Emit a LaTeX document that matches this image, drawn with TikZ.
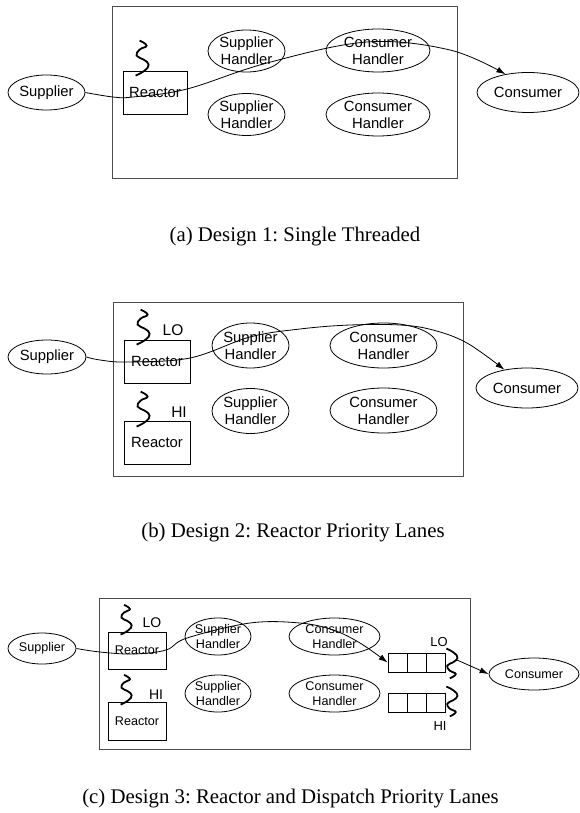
\documentclass[tikz,border=0pt]{standalone}
\usepackage{fontspec}
\setmainfont{Liberation Serif}
\setsansfont{Liberation Sans}
\usetikzlibrary{shapes,arrows.meta,positioning,calc}
\frenchspacing

\begin{document}
\begin{tikzpicture}[x=1pt, y=-1pt,
    ent/.style={ellipse, draw, line width=0.8pt, inner sep=0pt, align=center},
    reactor/.style={rectangle, draw, line width=0.8pt, inner sep=0pt},
    frame/.style={rectangle, draw=black!70, line width=1pt, inner sep=0pt},
    queue/.style={rectangle, draw, line width=0.8pt, inner sep=0pt, minimum width=57pt, minimum height=19pt,
        path picture={\foreach \k in {1,2}
            \draw[line width=0.8pt] ($(path picture bounding box.north west)!\k/3!(path picture bounding box.north east)$)
               -- ($(path picture bounding box.south west)!\k/3!(path picture bounding box.south east)$);}},
    prio/.style={inner sep=0pt},
    flow/.style={->, >={Latex[length=9pt,width=6pt]}, line width=0.8pt},
    caption/.style={font=\rmfamily\fontsize{20.8}{25}\selectfont, anchor=base},
    big/.style={font=\sffamily\fontsize{14.8}{17}\selectfont},
    small/.style={font=\sffamily\fontsize{12.6}{14.5}\selectfont},
    thread/.pic={\draw[line width=1.8pt] plot[smooth, tension=0.8] coordinates
        {(0,0) (9,-5) (13,-11) (8,-16) (1,-20) (4,-26) (11,-30) (4,-35)};}
]
    \useasboundingbox (0,0) rectangle (579,813);

    % (a) single threaded
    \node[frame, minimum width=345pt, minimum height=172pt] (sys1) at (284.5,93) {};
    \node[ent, big, minimum width=77pt, minimum height=35pt] (sup1) at (46.5,92.5) {Supplier};
    \node[reactor, big, minimum width=64pt, minimum height=43pt] (rea1) at (155,92.5) {Reactor};
    \node[ent, big, minimum width=77pt, minimum height=42pt] (sh1a) at (246.5,51) {Supplier\\Handler};
    \node[ent, big, minimum width=77pt, minimum height=42pt] (sh1b) at (246.5,114.5) {Supplier\\Handler};
    \node[ent, big, minimum width=104pt, minimum height=43pt] (ch1a) at (378,50.5) {Consumer\\Handler};
    \node[ent, big, minimum width=104pt, minimum height=43pt] (ch1b) at (378,114.5) {Consumer\\Handler};
    \node[ent, big, minimum width=102pt, minimum height=40pt] (con1) at (528,92.5) {Consumer};
    \pic at ($(rea1.north west)+(13,5)$) {thread};
    \draw[flow] plot[smooth, tension=0.6] coordinates
        {(sup1.east) (113,97) (133,97) (187,89) (267,63) (367,42) (450,50) (con1.141)};
    \node[caption] (capa) at (295,241) {(a) Design 1: Single Threaded};

    % (b) reactor priority lanes
    \node[frame, minimum width=350pt, minimum height=174pt] (sys2) at (288,389) {};
    \node[ent, big, minimum width=78pt, minimum height=34pt] (sup2) at (47,357) {Supplier};
    \node[reactor, big, minimum width=66pt, minimum height=43pt] (rea2a) at (157,361.5) {Reactor};
    \node[reactor, big, minimum width=66pt, minimum height=43pt] (rea2b) at (157,442.5) {Reactor};
    \node[prio, font=\sffamily\fontsize{15.5}{17}\selectfont] (lo2) at (173,330) {LO};
    \node[prio, font=\sffamily\fontsize{15.5}{17}\selectfont] (hi2) at (179,412) {HI};
    \node[ent, big, minimum width=77pt, minimum height=45pt] (sh2a) at (250.5,345.5) {Supplier\\Handler};
    \node[ent, big, minimum width=77pt, minimum height=45pt] (sh2b) at (250.5,411) {Supplier\\Handler};
    \node[ent, big, minimum width=107pt, minimum height=45pt] (ch2a) at (383.5,345.5) {Consumer\\Handler};
    \node[ent, big, minimum width=107pt, minimum height=45pt] (ch2b) at (383.5,410.5) {Consumer\\Handler};
    \node[ent, big, minimum width=102pt, minimum height=40pt] (con2) at (527,388) {Consumer};
    \pic at ($(rea2a.north west)+(13,5)$) {thread};
    \pic at ($(rea2b.north west)+(13,6)$) {thread};
    \draw[flow] plot[smooth, tension=0.6] coordinates
        {(sup2.east) (100,360) (127,362) (190,358) (250,337) (300,329) (350,325) (400,325) (433,330) (467,343) (con2.141)};
    \node[caption] (capb) at (293,537) {(b) Design 2: Reactor Priority Lanes};

    % (c) reactor and dispatch priority lanes
    \node[frame, minimum width=371pt, minimum height=151pt] (sys3) at (284.5,673.5) {};
    \node[ent, small, minimum width=68pt, minimum height=31pt] (sup3) at (42,648.5) {Supplier};
    \node[reactor, small, minimum width=58pt, minimum height=37pt] (rea3a) at (137,650.5) {Reactor};
    \node[reactor, small, minimum width=58pt, minimum height=38pt] (rea3b) at (137,721) {Reactor};
    \node[prio, font=\sffamily\fontsize{14}{16}\selectfont] (lo3) at (152,623) {LO};
    \node[prio, font=\sffamily\fontsize{14}{16}\selectfont] (hi3) at (156,695) {HI};
    \node[ent, small, minimum width=66pt, minimum height=37pt] (sh3a) at (218,636.5) {Supplier\\Handler};
    \node[ent, small, minimum width=66pt, minimum height=37pt] (sh3b) at (218,693.5) {Supplier\\Handler};
    \node[ent, small, minimum width=91pt, minimum height=37pt] (ch3a) at (334.5,636.5) {Consumer\\Handler};
    \node[ent, small, minimum width=91pt, minimum height=37pt] (ch3b) at (334.5,693.5) {Consumer\\Handler};
    \node[queue] (q3a) at (416.5,662.5) {};
    \node[queue] (q3b) at (416.5,702.5) {};
    \node[prio, font=\sffamily\fontsize{13}{15}\selectfont] (lo3q) at (439,642) {LO};
    \node[prio, font=\sffamily\fontsize{13}{15}\selectfont] (hi3q) at (440,726) {HI};
    \node[ent, small, minimum width=90pt, minimum height=32pt] (con3) at (534,674) {Consumer};
    \pic[scale=0.85] at ($(rea3a.north west)+(13,3)$) {thread};
    \pic[scale=0.85] at ($(rea3b.north west)+(13,3)$) {thread};
    \pic[scale=0.85, yscale=-1] at ($(q3a.north east)+(1,-4)$) {thread};
    \pic[scale=0.85, yscale=-1] at ($(q3b.north east)+(1,-6)$) {thread};
    \coordinate (q3out) at (457,660);
    \draw[flow] plot[smooth, tension=0.6] coordinates
        {(sup3.east) (100,652) (133,654) (166,650) (187,638) (250,623) (300,623) (333,630) (360,643) (q3a.west)};
    \draw[flow] (q3out) -- (con3.west);
    \node[caption] (capc) at (290.5,803) {(c) Design 3: Reactor and Dispatch Priority Lanes};
\end{tikzpicture}
\end{document}
